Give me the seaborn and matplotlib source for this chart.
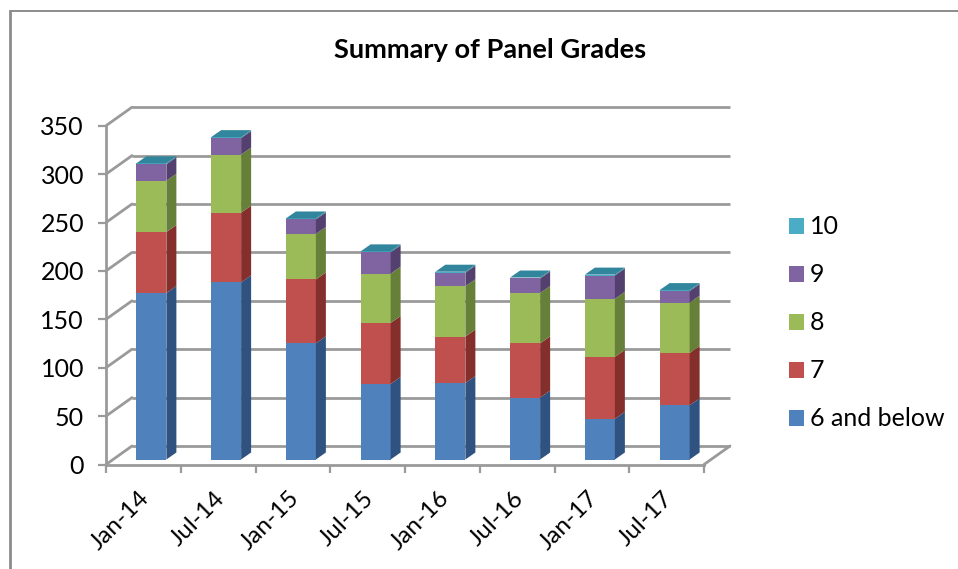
import matplotlib
matplotlib.use("Agg")
import matplotlib.pyplot as plt
from matplotlib.lines import Line2D
from matplotlib.patches import Polygon
from matplotlib.transforms import ScaledTranslation
import numpy as np
import seaborn as sns

sns.set_style("white")
plt.rcParams['font.family'] = ['Lato', 'DejaVu Sans']

# values
periods = ['Jan-14', 'Jul-14', 'Jan-15', 'Jul-15', 'Jan-16', 'Jul-16', 'Jan-17', 'Jul-17']
below6 = [172, 183, 120, 78, 79, 64, 42, 56]
grade7 = [63, 72, 66, 63, 48, 56, 64, 54]
grade8 = [53, 60, 47, 51, 52, 52, 60, 52]
grade9 = [17, 17, 15, 22, 14, 15, 24, 12]
grade10 = [1, 1, 1, 1, 1, 1, 1, 1]
series_names = ['6 and below', '7', '8', '9', '10']
y_ticks = [0, 50, 100, 150, 200, 250, 300, 350]

series = [below6, grade7, grade8, grade9, grade10]
front_cols = ['#4F81BD', '#C0504D', '#9BBB59', '#8064A2', '#4BACC6']
side_cols = ['#2F5280', '#852F2D', '#66803A', '#54406F', '#2F7E94']
top_col = '#31859C'
grid_col = '#9A9A9A'
line_w = 2.0

W, H, DPI = 958, 569, 100
fig = plt.figure(figsize=(W / DPI, H / DPI), dpi=DPI)
# front plane of the fake 3d box
left, right, top, bottom = 106, 704, 125.7, 464.5
ax = fig.add_axes([left / W, 1 - bottom / H, (right - left) / W, (bottom - top) / H])
ax.set_xlim(-0.5, 7.5)
ax.set_ylim(0, 350)
px_x = 8 / (right - left)
px_y = 350 / (bottom - top)

# depths in data units
wall_dx, wall_dy = 26 * px_x, 18.5 * px_y
bar_dx, bar_dy = 10 * px_x, 7 * px_y
shift_x, shift_y = 8 * px_x, 5 * px_y
bar_w = 30 * px_x

# back wall and side wall
for t in y_ticks:
    ax.plot([-0.5 + wall_dx, 7.5 + wall_dx], [t + wall_dy, t + wall_dy], color=grid_col, lw=line_w,
            clip_on=False, zorder=1, solid_capstyle='butt')
    ax.plot([-0.5, -0.5 + wall_dx], [t, t + wall_dy], color=grid_col, lw=line_w, clip_on=False, zorder=1)
ax.plot([7.5, 7.5 + wall_dx], [0, wall_dy], color=grid_col, lw=line_w, clip_on=False, zorder=1)

# stacked bars, then the side and top faces
bottoms = np.zeros(len(periods))
for vals, name, col, side in zip(series, series_names, front_cols, side_cols):
    vals = np.array(vals, dtype=float)
    n_before = len(ax.patches)
    sns.barplot(x=periods, y=vals, bottom=bottoms + shift_y, color=col, saturation=1, width=bar_w,
                label=name, ax=ax, zorder=3, linewidth=0)
    for p in ax.patches[n_before:]:
        p.set_x(p.get_x() + shift_x)
        xr = p.get_x() + p.get_width()
        y0, y1 = p.get_y(), p.get_y() + p.get_height()
        ax.add_patch(Polygon([(xr, y0), (xr + bar_dx, y0 + bar_dy), (xr + bar_dx, y1 + bar_dy), (xr, y1)],
                             closed=True, fc=side, ec='none', zorder=3, clip_on=False))
    bottoms = bottoms + vals

for i, total in enumerate(bottoms):
    xl = i - bar_w / 2 + shift_x
    xr = xl + bar_w
    y = total + shift_y
    ax.add_patch(Polygon([(xl, y), (xr, y), (xr + bar_dx, y + bar_dy), (xl + bar_dx, y + bar_dy)],
                         closed=True, fc=top_col, ec='none', zorder=3, clip_on=False))

ax.set_xlim(-0.5, 7.5)
ax.set_ylim(0, 350)

# axes
sns.despine(ax=ax, top=True, right=True)
for s in ['left', 'bottom']:
    ax.spines[s].set_color(grid_col)
    ax.spines[s].set_linewidth(line_w)
    ax.spines[s].set_zorder(4)
ax.set_yticks(y_ticks)
ax.tick_params(axis='y', left=True, length=5.8, width=1.6, color=grid_col, pad=10, labelsize=18, labelcolor='black')
ax.set_xticks(np.arange(len(periods)))
ax.set_xticks(np.arange(len(periods) + 1) - 0.5, minor=True)
ax.tick_params(axis='x', which='minor', bottom=True, length=5.8, width=1.6, color=grid_col)
ax.tick_params(axis='x', which='major', bottom=False, length=0, pad=22, labelsize=17.5, labelcolor='black')
ax.set_xticklabels(periods, rotation=45, ha='right', va='center', rotation_mode='anchor')
# nudge the slanted labels a little to the right
nudge = ScaledTranslation(3 / DPI, 0, fig.dpi_scale_trans)
for lab in ax.get_xticklabels():
    lab.set_transform(lab.get_transform() + nudge)
ax.set_xlabel('')
ax.set_ylabel('')

# legend, top entry first
handles, labels = ax.get_legend_handles_labels()
ax.legend(handles[::-1], labels[::-1], loc='center left', bbox_to_anchor=(789 / W, 1 - 323 / H),
          bbox_transform=fig.transFigure, frameon=False, fontsize=18, labelcolor='black', handlelength=0.6,
          handleheight=0.6, handletextpad=0.24, labelspacing=1.0, borderpad=0, borderaxespad=0)

fig.text(490 / W, 1 - 50 / H, 'Summary of Panel Grades', ha='center', va='center', fontsize=19.6,
         fontweight='bold', color='black')

# frame of the chart area, only top and left show
fig.add_artist(Line2D([10 / W, 10 / W], [0, 1 - 11 / H], color='#8C8C8C', lw=2))
fig.add_artist(Line2D([10 / W, 1], [1 - 11 / H, 1 - 11 / H], color='#8C8C8C', lw=1.4))

fig.savefig('out.png', dpi=DPI)
